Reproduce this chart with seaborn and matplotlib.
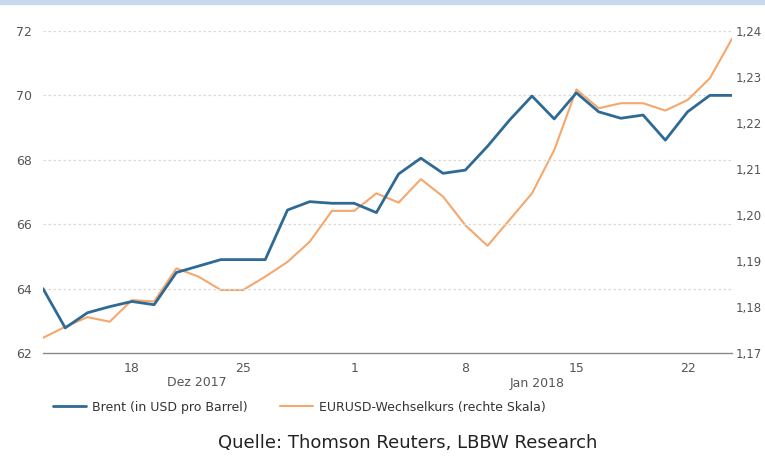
import matplotlib
matplotlib.use("Agg")
import matplotlib.pyplot as plt
import matplotlib.transforms as mtransforms
from matplotlib.patches import Rectangle
import seaborn as sns
import pandas as pd

# Trading days shown (business days only)
dates = [
    "2017-12-12", "2017-12-13", "2017-12-14", "2017-12-15",
    "2017-12-18", "2017-12-19", "2017-12-20", "2017-12-21", "2017-12-22",
    "2017-12-25", "2017-12-26", "2017-12-27", "2017-12-28", "2017-12-29",
    "2018-01-01", "2018-01-02", "2018-01-03", "2018-01-04", "2018-01-05",
    "2018-01-08", "2018-01-09", "2018-01-10", "2018-01-11", "2018-01-12",
    "2018-01-15", "2018-01-16", "2018-01-17", "2018-01-18", "2018-01-19",
    "2018-01-22", "2018-01-23", "2018-01-24",
]

# Brent crude, USD per barrel (left axis)
brent = [
    64.00, 62.78, 63.25, 63.44, 63.60, 63.50, 64.50, 64.70, 64.90,
    64.90, 64.90, 66.44, 66.70, 66.65, 66.65, 66.36, 67.56, 68.05,
    67.58, 67.68, 68.42, 69.24, 69.98, 69.27, 70.08, 69.49, 69.29,
    69.39, 68.61, 69.49, 70.00, 70.00,
]

# EUR/USD exchange rate (right axis)
eurusd = [
    1.1733, 1.1757, 1.1778, 1.1768, 1.1815, 1.1812, 1.1884, 1.1866,
    1.1837, 1.1837, 1.1866, 1.1898, 1.1942, 1.2009, 1.2009, 1.2047,
    1.2027, 1.2078, 1.2040, 1.1978, 1.1933, 1.1990, 1.2047, 1.2141,
    1.2273, 1.2232, 1.2243, 1.2243, 1.2227, 1.2250, 1.2297, 1.2383,
]

tick_dates = ["2017-12-18", "2017-12-25", "2018-01-01",
              "2018-01-08", "2018-01-15", "2018-01-22"]
tick_labels = ["18", "25", "1", "8", "15", "22"]
month_labels = ["Dez 2017", "Jan 2018"]

left_ticks = [62, 64, 66, 68, 70, 72]
right_ticks = [1.17, 1.18, 1.19, 1.20, 1.21, 1.22, 1.23, 1.24]

series_names = ["Brent (in USD pro Barrel)", "EURUSD-Wechselkurs (rechte Skala)"]
source_text = "Quelle: Thomson Reuters, LBBW Research"

BLUE = "#2f6a95"
ORANGE = "#f5a76c"
GRID = "#d9d9d9"
TICK_TXT = "#555555"

sns.set_theme(style="white")
plt.rcParams["font.family"] = ["DejaVu Sans"]

df = pd.DataFrame({
    "pos": range(len(dates)),
    "date": dates,
    "brent": brent,
    "eurusd": eurusd,
})

fig = plt.figure(figsize=(7.65, 4.57), dpi=100)
ax = fig.add_axes([43 / 765, 1 - 353 / 457, (732 - 43) / 765, (353 - 31) / 457])
ax2 = ax.twinx()

sns.lineplot(data=df, x="pos", y="eurusd", ax=ax2, color=ORANGE,
             linewidth=1.5, label=series_names[1], legend=False)
sns.lineplot(data=df, x="pos", y="brent", ax=ax, color=BLUE,
             linewidth=2.0, label=series_names[0], legend=False)

# Draw the Brent line above the EUR/USD line
ax.set_zorder(ax2.get_zorder() + 1)
ax.patch.set_visible(False)

ax.set_xlim(0, len(dates) - 1)
ax.set_ylim(left_ticks[0], left_ticks[-1])
ax2.set_ylim(right_ticks[0], right_ticks[-1])

ax.set_yticks(left_ticks)
ax.set_yticklabels([str(v) for v in left_ticks])
ax2.set_yticks(right_ticks)
ax2.set_yticklabels([f"{v:.2f}".replace(".", ",") for v in right_ticks])

tick_pos = [dates.index(d) for d in tick_dates]
ax.set_xticks(tick_pos)
ax.set_xticklabels(tick_labels)

for a in (ax, ax2):
    a.set_xlabel("")
    a.set_ylabel("")
    for s in a.spines.values():
        s.set_visible(False)

ax.spines["bottom"].set_visible(True)
ax.spines["bottom"].set_color("#8a8a8a")
ax.spines["bottom"].set_linewidth(1.0)

# Dotted horizontal gridlines at the left-axis ticks
for v in left_ticks[1:]:
    ax.axhline(v, color=GRID, linewidth=0.9, linestyle=(0, (2, 2)), zorder=0)

ax.tick_params(axis="x", direction="inout", length=5, width=0.8, color="#8a8a8a",
               labelsize=9, labelcolor=TICK_TXT, pad=4)
ax.tick_params(axis="y", length=0, labelsize=9, labelcolor=TICK_TXT, pad=8)
ax2.tick_params(axis="y", length=0, labelsize=8.5, labelcolor=TICK_TXT, pad=3)

# Month labels under the day ticks
trans = mtransforms.blended_transform_factory(ax.transData, fig.transFigure)
month_x = [(197 - 43) / 22.23, (537 - 43) / 22.23]
for mx, txt in zip(month_x, month_labels):
    ax.text(mx, 1 - 383 / 457, txt, transform=trans, ha="center", va="center",
            fontsize=9, color=TICK_TXT)

# Legend
handles = ax.get_lines()[:1] + ax2.get_lines()[:1]
fig.legend(handles, series_names, loc="center left",
           bbox_to_anchor=(42 / 765, 1 - 407 / 457), ncol=2, frameon=False,
           fontsize=9, handlelength=2.6, handletextpad=0.5, columnspacing=2.6,
           labelcolor="#333333")

# Source note
fig.text(408 / 765, 1 - 443 / 457, source_text, ha="center", va="center",
         fontsize=13, color="#222222")

# Light blue header band at the top edge
fig.patches.append(Rectangle((0, 1 - 4 / 457), 1, 4 / 457,
                             transform=fig.transFigure, color="#c9d9ee",
                             zorder=0))

fig.savefig("out.png", dpi=100)
